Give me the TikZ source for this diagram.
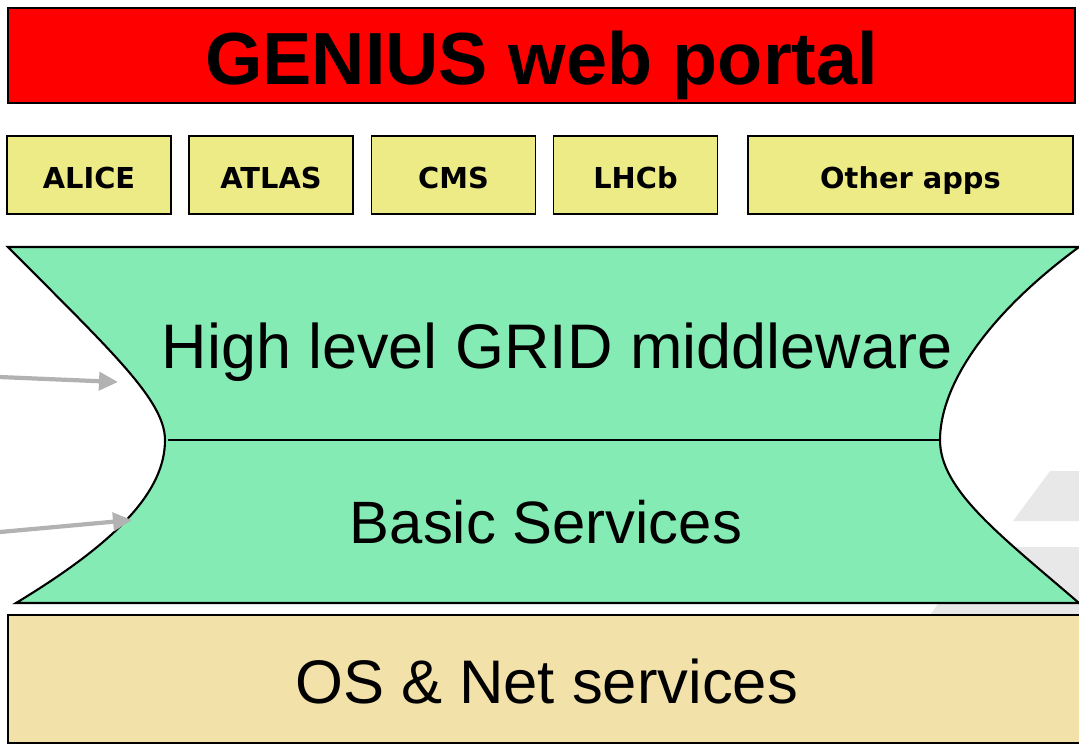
\documentclass[tikz,border=0pt]{standalone}
\usepackage{fontspec}
\setmainfont{Liberation Sans}
\newfontfamily\boxfont{DejaVu Sans}
\usetikzlibrary{arrows.meta}
\definecolor{portalred}{RGB}{255,0,0}
\definecolor{appyellow}{RGB}{237,235,133}
\definecolor{mwgreen}{RGB}{133,235,181}
\definecolor{ostan}{RGB}{242,226,170}
\definecolor{arrowgray}{RGB}{178,178,178}
\definecolor{markgray}{RGB}{232,232,232}
\begin{document}
\begin{tikzpicture}[x=0.01cm,y=-0.01cm,
    appbox/.style={draw=black,fill=appyellow,line width=0.5pt,minimum height=7.8mm,inner sep=0pt,text height=2.6mm,text depth=0pt,font=\boxfont\bfseries\fontsize{8.2pt}{10pt}\selectfont},
    layertext/.style={anchor=base,inner sep=0pt},
    sidearrow/.style={arrowgray,line width=1.2pt,-{Triangle[length=1.9mm,width=1.8mm]}}]
    \useasboundingbox (0,0) rectangle (1079,747);
    \clip (0,0) rectangle (1079,747);

    \node[draw=black,fill=portalred,line width=0.5pt,minimum width=10.67cm,minimum height=9.5mm,inner sep=0pt,text height=5.8mm,text depth=0pt,font=\bfseries\fontsize{21pt}{24pt}\selectfont] (portal) at (541.5,55.5) {GENIUS web portal};

    \node[appbox,minimum width=1.64cm] (alice) at (89,175) {ALICE};
    \node[appbox,minimum width=1.64cm] (atlas) at (271,175) {ATLAS};
    \node[appbox,minimum width=1.64cm] (cms) at (453.5,175) {CMS};
    \node[appbox,minimum width=1.64cm] (lhcb) at (635.5,175) {LHCb};
    \node[appbox,minimum width=3.25cm] (other) at (910.5,175) {Other apps};

    \fill[markgray] (1050,471) -- (1079,471) -- (1079,521) -- (1013,521) -- cycle;
    \fill[markgray] (978,547) -- (1079,547) -- (1079,615) -- (930,615) -- cycle;

    \draw[fill=mwgreen,line width=0.6pt] (8,247) -- (1079,247) .. controls (980,320) and (940,390) .. (940,440)
        .. controls (940,490) and (1000,535) .. (1079,603) -- (16,603)
        .. controls (120,540) and (165,490) .. (165,440) .. controls (165,400) and (110,350) .. (8,247) -- cycle;
    \coordinate (mwleft) at (168,440);
    \coordinate (mwright) at (940,440);
    \draw[line width=0.5pt] (mwleft) -- (mwright);
    \node[layertext,font=\fontsize{17.9pt}{20pt}\selectfont] (highlevel) at (557,368) {High level GRID middleware};
    \node[layertext,font=\fontsize{17pt}{20pt}\selectfont] (basic) at (546,543) {Basic Services};

    \coordinate (arrowA) at (0,377);
    \coordinate (tipA) at (118,382);
    \coordinate (arrowB) at (0,532);
    \coordinate (tipB) at (132,520);
    \draw[sidearrow] (arrowA) -- (tipA);
    \draw[sidearrow] (arrowB) -- (tipB);

    \node[draw=black,fill=ostan,line width=0.5pt,minimum width=10.77cm,minimum height=12.8mm,inner sep=0pt,text height=4.9mm,text depth=0pt,font=\fontsize{17.5pt}{20pt}\selectfont] (osnet) at (546.5,679) {OS \& Net services};
\end{tikzpicture}
\end{document}
